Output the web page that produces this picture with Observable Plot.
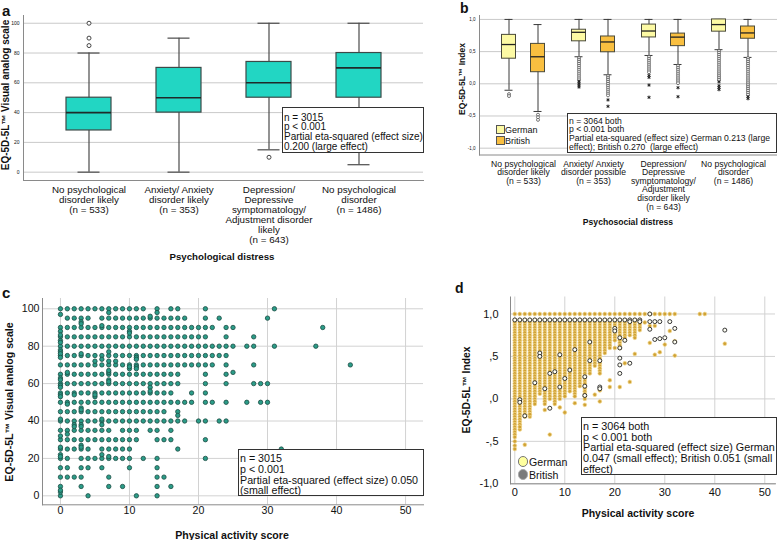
<!DOCTYPE html>
<html><head><meta charset="utf-8">
<script src="https://cdn.jsdelivr.net/npm/d3@7"></script>
<script src="https://cdn.jsdelivr.net/npm/@observablehq/plot@0.6"></script>
<style>
body{margin:0;background:#fff;}
#fig{position:relative;width:777px;height:540px;overflow:hidden;font-family:"Liberation Sans",Arial,sans-serif;color:#111;}
.note{position:absolute;background:#fff;border:1px solid #333;box-sizing:border-box;white-space:pre;overflow:hidden;padding-left:1px;}
</style></head><body><div id="fig"></div>
<script>
// ---------- Panel a data ----------
const aCats = ["No psychological\ndisorder likely\n(n = 533)", "Anxiety/ Anxiety\ndisorder likely\n(n = 353)", "Depression/\nDepressive\nsymptomatology/\nAdjustment disorder\nlikely\n(n = 643)", "No psychological\ndisorder\n(n = 1486)"];
const aLow  = [0, 0, 15, 5];
const aQ1   = [28, 40, 50, 50];
const aMed  = [40, 50, 60, 70];
const aQ3   = [50, 70, 74, 80];
const aHigh = [80, 90, 100, 100];
const aOutCat = [0, 0, 0, 2];
const aOutVal = [85, 90, 100, 10];
const aTicks = [0, 20, 40, 60, 80, 100];

// ---------- Panel b data ----------
const bCats = ["No psychological\ndisorder likely\n(n = 533)", "Anxiety/ Anxiety\ndisorder possible\n(n = 353)", "Depression/\nDepressive\nsymptomatology/\nAdjustment\ndisorder likely\n(n = 643)", "No psychological\ndisorder\n(n = 1486)"];
const bGerLow  = [-0.10, 0.42, 0.44, 0.53];
const bGerQ1   = [0.39, 0.66, 0.72, 0.81];
const bGerMed  = [0.61, 0.80, 0.82, 0.92];
const bGerQ3   = [0.76, 0.84, 0.92, 1.00];
const bGerHigh = [1.00, 1.00, 1.00, 1.00];
const bBriLow  = [-0.43, 0.14, 0.30, 0.41];
const bBriQ1   = [0.18, 0.49, 0.585, 0.70];
const bBriMed  = [0.42, 0.65, 0.725, 0.79];
const bBriQ3   = [0.62, 0.735, 0.78, 0.89];
const bBriHigh = [0.92, 1.00, 1.00, 1.00];
const bGerOutliers = [[-0.16, -0.19], [0.40,0.37,0.34,0.31,0.28,0.25,0.22,0.19,0.16,0.13,0.10,0.07], [0.42,0.39,0.36,0.33,0.30,0.27,0.24,0.21,0.18], [0.51,0.48,0.45,0.42,0.39,0.36,0.33,0.30,0.27,0.24,0.21,0.18,0.15,0.12,0.09,0.06]];
const bGerExtremes = [[], [0.04,0.01,-0.02,-0.05], [0.13,0.10,-0.02,-0.21], [0.03,-0.03,-0.06,-0.09]];
const bBriOutliers = [[-0.48,-0.52,-0.56], [0.12,0.09,0.06,0.03,0.0,-0.03,-0.06,-0.09,-0.12,-0.15,-0.18], [0.28,0.25,0.22,0.19,0.16,0.13,0.10,0.07,0.04,0.01], [0.40,0.37,0.34,0.31,0.28,0.25,0.22,0.19,0.16,0.13,0.10,0.07,0.04,0.01,-0.02,-0.05,-0.08,-0.11,-0.14,-0.17]];
const bBriExtremes = [[], [-0.25,-0.35], [-0.06,-0.20], [-0.20,-0.23]];
const bTicks = [-1, -0.5, 0, 0.5, 1];

// ---------- Panel c data (VAS rows, activity scores on each row) ----------
const cVas = [100, 95, 90, 85, 80, 75, 70, 65, 60, 55, 50, 45, 40, 35, 30, 25, 20, 15, 10, 5, 0];
const cActivityByVas = [
  [0,1,2,3,4,5,6,7,8,9,10,11,12,14,16,17,21,31],
  [1,2,3,4,6,7,8,9,10,11,12,13,14,15,16,17,18,21,23,30],
  [0,1,2,3,4,5,6,7,8,9,10,11,12,13,14,15,16,17,18,19,20,21,22,24,25,38],
  [0,1,2,3,4,5,6,7,8,9,10,11,12,13,14,15,16,17,18,19,20,21,24,28],
  [0,1,2,3,4,5,6,7,8,9,10,11,12,13,14,15,16,17,18,19,20,21,22,23,24,25,27,28,31,37],
  [0,1,2,3,4,5,6,7,8,9,10,11,12,13,14,15,16,17,18,19,20,21,22,23,24],
  [0,1,2,3,4,5,6,7,8,9,10,11,12,13,14,15,16,17,18,19,20,21,22,24,28,42],
  [0,1,2,3,4,5,6,7,8,9,10,11,12,13,14,15,16,17,21,24],
  [0,1,2,3,4,5,6,7,8,9,10,11,12,13,14,15,16,17,21,24,28,29,30],
  [0,1,2,3,4,5,6,7,8,9,10,11,12,13,14,15,16,19,21],
  [0,1,2,3,4,5,6,7,8,9,10,11,12,13,14,15,16,17,18,19,21,22,24,27,29,30],
  [0,1,2,3,4,5,6,7,8,9,10,11,12,13,14,15,17],
  [0,1,2,3,4,5,6,7,8,9,10,11,12,13,14,15,16,17,18,20,21,23,24],
  [0,1,2,3,4,5,6,7,9,10,11,13,14,16],
  [0,1,2,3,4,5,6,7,8,9,10,11,14,15,16,21],
  [0,1,2,3,4,6,7,8,9,10,17,32],
  [0,1,3,4,5,6,7,8,9,10,12,14,21],
  [0,1,3,4,6,10,14],
  [0,1,2,3,7,14,15],
  [0,3,7,9,14,16],
  [0,4,11,14]
];
const cExtraActivity = [0,7,14,13,3,3,0,0,6,10,10,0,0,0,0,0,3,7,0,6,11,11,5,7,8,10,10,11,11,0,0,1,7,7,25,0,0,7,7,13,0,0,2,5,5,13,1,3,3,17,0,2,2,3,6,6,1,3,0,0,3,3,0,0,6,7,0,0];
const cExtraVas      = [97,98,98,96,93,92,88,86,91,88,87,83,82,78,77,76,76,77,74,73,74,73,72,72,72,68,69,69,68,63,62,66,66,67,66,59,58,62,61,58,54,53,54,53,54,56,49,47,46,43,41,38,37,38,41,38,33,37,32,26,27,26,22,21,22,21,2,3];

// ---------- Panel d data ----------
const dIndexLevels = [1.0,0.93,0.90,0.87,0.84,0.81,0.78,0.75,0.72,0.69,0.66,0.63,0.60,0.57,0.54,0.51,0.48,0.45,0.42,0.39,0.36,0.33,0.30,0.27,0.24,0.21,0.18,0.15,0.12,0.09,0.06,0.03,0.0,-0.03,-0.06,-0.09,-0.12,-0.15,-0.18,-0.21,-0.24,-0.27,-0.30,-0.33,-0.36,-0.39,-0.42,-0.45];
const dColActivity = [0,1,2,3,4,5,6,7,8,9,10,11,12,13,14,15,16,17,18,19,20,21,22,23,24,25];
const dColLowest   = [-0.45,-0.36,-0.21,-0.21,-0.06,0.06,-0.06,0.0,-0.06,0.0,0.03,0.09,0.03,0.15,0.0,0.30,0.39,0.30,0.54,0.60,0.69,0.60,0.69,0.75,0.72,0.81];
const dBriExtraActivity = [0,0,0,2,7,1,3,6,9,10,14,17,19,19,21,23,17,16,12,24,28,29,32,27,30,31,32,42,26,27,28,29,30,31,32,37,38,26,27,28,22,20,21];
const dBriExtraIndex    = [-0.50,-0.55,-0.59,-0.54,-0.42,-0.33,-0.18,-0.13,-0.10,-0.16,-0.07,-0.03,0.14,0.22,0.14,0.20,0.10,0.05,-0.05,0.53,0.52,0.55,0.51,0.66,0.64,0.80,0.68,0.65,1,1,1,1,1,1,1,1,1,0.90,0.86,0.86,0.42,0.60,0.60];
const dGerTopRowActivity = [0,1,2,3,4,5,6,7,8,9,10,11,12,13,14,15,16,17,18,19,20,21,22,23,24,25];
const dGerTopRowIndex = 0.93;
const dGerActivity = [5,5,4,1,1,2,7,6,9,7,8,9,10,12,11,14,14,14,15,15,17,17,17,21,21,21,21,21,23,22,25,27,27,28,29,27,28,29,30,32,32,31,42,20,20,23];
const dGerIndex    = [0.54,0.50,0.19,-0.01,-0.04,-0.20,-0.11,0.12,0.14,0.30,0.32,0.52,0.24,0.58,0.34,0.26,0.04,0.15,0.67,0.45,0.45,0.14,0.12,0.72,0.60,0.48,0.40,0.30,0.42,0.69,0.91,1.0,0.91,0.91,0.91,0.82,0.70,0.71,0.72,0.83,0.67,0.91,0.81,0.83,0.80,0.91];

// ---------- helpers ----------
const FONT = '"Liberation Sans", Arial, sans-serif';
const fig = document.getElementById("fig");
function place(svg, left, top) {
  svg.style.position = "absolute"; svg.style.left = left + "px"; svg.style.top = top + "px";
  fig.appendChild(svg);
}
function label(txt, x, y, o = {}) {
  const d = document.createElement("div");
  d.textContent = txt;
  const size = o.size || 10;
  Object.assign(d.style, {position: "absolute", left: x + "px", top: y + "px", fontSize: size + "px",
    lineHeight: size + "px", fontWeight: o.bold ? "bold" : "normal", whiteSpace: "pre"});
  const tx = o.anchor === "middle" ? "-50%" : o.anchor === "end" ? "-100%" : "0";
  d.style.transform = `translate(${tx},-50%)` + (o.rotate ? ` rotate(${o.rotate}deg)` : "");
  fig.appendChild(d);
}
function note(lines, left, top, width, height, size, lh, padTop) {
  const d = document.createElement("div");
  d.className = "note";
  d.textContent = lines.join("\n");
  Object.assign(d.style, {left: left + "px", top: top + "px", width: width + "px", height: height + "px",
    fontSize: size + "px", lineHeight: lh + "px", paddingTop: padTop + "px"});
  fig.appendChild(d);
}
function swatch(left, top, w, h, fill, stroke, round) {
  const d = document.createElement("div");
  Object.assign(d.style, {position: "absolute", left: left + "px", top: top + "px", width: w + "px", height: h + "px",
    background: fill, border: "1px solid " + stroke, boxSizing: "border-box", borderRadius: round ? "50%" : "0"});
  fig.appendChild(d);
}
const commaFmt = d => d.toFixed(1).replace(".", ",");
const spssFmt = d => commaFmt(d).replace(/^(-?)0,/, "$1,");
const baseStyle = {fontFamily: FONT, background: "transparent", overflow: "visible", color: "#111"};

// ---------- Panel a ----------
const aBox = aCats.map((c, i) => ({cat: c, low: aLow[i], q1: aQ1[i], med: aMed[i], q3: aQ3[i], high: aHigh[i]}));
const aOut = aOutCat.map((ci, i) => ({cat: aCats[ci], val: aOutVal[i]}));
const aY = [-5.6, 105.2];
place(Plot.plot({
  width: 430, height: 265, marginLeft: 23, marginRight: 7, marginTop: 15, marginBottom: 85,
  style: baseStyle,
  x: {domain: aCats, paddingInner: 0.5, paddingOuter: 0.472},
  y: {domain: aY},
  marks: [
    Plot.gridY(aTicks, {stroke: "#c9c9c9", strokeOpacity: 1}),
    Plot.frame({anchor: "left", stroke: "#8a8a8a"}),
    Plot.frame({anchor: "bottom", stroke: "#8a8a8a"}),
    Plot.ruleX(aBox, {x: "cat", y1: "low", y2: "high", stroke: "#4a4a4a", strokeWidth: 1.2}),
    Plot.tickY(aBox, {x: "cat", y: "low", insetLeft: 11.5, insetRight: 11.5, stroke: "#4a4a4a", strokeWidth: 1.2}),
    Plot.tickY(aBox, {x: "cat", y: "high", insetLeft: 11.5, insetRight: 11.5, stroke: "#4a4a4a", strokeWidth: 1.2}),
    Plot.barY(aBox, {x: "cat", y1: "q1", y2: "q3", fill: "#22d6c3", stroke: "#3c4a48", strokeWidth: 1.2}),
    Plot.tickY(aBox, {x: "cat", y: "med", stroke: "#1f2b2a", strokeWidth: 1.6}),
    Plot.dot(aOut, {x: "cat", y: "val", r: 2, fill: "#fff", stroke: "#444", strokeWidth: 1}),
    Plot.axisY(aTicks, {tickSize: 0, tickPadding: 4, fontSize: 5, label: null}),
    Plot.axisX({tickSize: 0, tickPadding: 5, fontSize: 9.8, lineHeight: 1.02, label: null})
  ]
}), 0, 0);

// ---------- Panel b ----------
const mk = (cats, lo, q1, md, q3, hi) => cats.map((c, i) => ({cat: c, low: lo[i], q1: q1[i], med: md[i], q3: q3[i], high: hi[i]}));
const bGer = mk(bCats, bGerLow, bGerQ1, bGerMed, bGerQ3, bGerHigh);
const bBri = mk(bCats, bBriLow, bBriQ1, bBriMed, bBriQ3, bBriHigh);
const flat = arr => arr.flatMap((vals, i) => vals.map(v => ({cat: bCats[i], val: v})));
function boxMarks(data, dx, fill) {
  const bi = 28, ci = 31;
  return [
    Plot.ruleX(data, {x: "cat", y1: "low", y2: "high", dx, stroke: "#3a3a3a", strokeWidth: 1}),
    Plot.tickY(data, {x: "cat", y: "low", dx, insetLeft: ci, insetRight: ci, stroke: "#3a3a3a"}),
    Plot.tickY(data, {x: "cat", y: "high", dx, insetLeft: ci, insetRight: ci, stroke: "#3a3a3a"}),
    Plot.barY(data, {x: "cat", y1: "q1", y2: "q3", dx, insetLeft: bi, insetRight: bi, fill, stroke: "#4a4a3a", strokeWidth: 1}),
    Plot.tickY(data, {x: "cat", y: "med", dx, insetLeft: bi, insetRight: bi, stroke: "#222", strokeWidth: 1.3})
  ];
}
place(Plot.plot({
  width: 337, height: 230, marginLeft: 39, marginRight: 0, marginTop: 15, marginBottom: 75.5,
  style: baseStyle,
  x: {domain: bCats, paddingInner: 0, paddingOuter: 0.11},
  y: {domain: [-1.106, 1.061]},
  marks: [
    Plot.gridY(bTicks, {stroke: "#c9c9c9", strokeOpacity: 1}),
    Plot.frame({anchor: "left", stroke: "#8a8a8a"}),
    Plot.frame({anchor: "bottom", stroke: "#8a8a8a"}),
    ...boxMarks(bGer, -14.5, "#fdfaa4"),
    ...boxMarks(bBri, 14.5, "#f9bf40"),
    Plot.dot(flat(bGerOutliers), {x: "cat", y: "val", dx: -14.5, r: 1.5, fill: "#fff", stroke: "#555", strokeWidth: 0.8}),
    Plot.dot(flat(bBriOutliers), {x: "cat", y: "val", dx: 14.5, r: 1.5, fill: "#fff", stroke: "#555", strokeWidth: 0.8}),
    Plot.dot(flat(bGerExtremes), {x: "cat", y: "val", dx: -14.5, r: 1.6, symbol: "asterisk", stroke: "#222", strokeWidth: 1}),
    Plot.dot(flat(bBriExtremes), {x: "cat", y: "val", dx: 14.5, r: 1.6, symbol: "asterisk", stroke: "#222", strokeWidth: 1}),
    Plot.axisY(bTicks, {tickSize: 0, tickPadding: 4, fontSize: 4.5, tickFormat: commaFmt, label: null}),
    Plot.axisX({tickSize: 0, tickPadding: 5.5, fontSize: 8.6, lineHeight: 1.0, label: null})
  ]
}), 440, 0);

// ---------- Panel c ----------
const cTable = cVas.flatMap((v, i) => cActivityByVas[i].map(a => ({a, v})))
  .concat(cExtraActivity.map((a, i) => ({a, v: cExtraVas[i]})));
place(Plot.plot({
  width: 430, height: 270, marginLeft: 42, marginRight: 7, marginTop: 28, marginBottom: 35.7,
  style: baseStyle,
  x: {domain: [-2.6, 52.6]},
  y: {domain: [-4.8, 105.5]},
  marks: [
    Plot.gridX([0, 10, 20, 30, 40, 50], {stroke: "#d2d2d2", strokeOpacity: 1}),
    Plot.gridY(aTicks, {stroke: "#d2d2d2", strokeOpacity: 1}),
    Plot.frame({anchor: "left", stroke: "#8a8a8a"}),
    Plot.frame({anchor: "bottom", stroke: "#8a8a8a"}),
    Plot.dot(cTable, {x: "a", y: "v", r: 2.2, fill: "#2b9c88", stroke: "#1d4d44", strokeWidth: 0.8}),
    Plot.axisY(aTicks, {tickSize: 0, tickPadding: 3, fontSize: 10.6, label: null}),
    Plot.axisX([0, 10, 20, 30, 40, 50], {tickSize: 0, tickPadding: 1.5, fontSize: 10.6, label: null})
  ]
}), 0, 270);

// ---------- Panel d ----------
const dBri = dColActivity.flatMap((a, i) => dIndexLevels.filter(l => l >= dColLowest[i] - 1e-9).map(l => ({a, v: l})))
  .concat(dBriExtraActivity.map((a, i) => ({a, v: dBriExtraIndex[i]})));
const dGer = dGerTopRowActivity.map(a => ({a, v: dGerTopRowIndex}))
  .concat(dGerActivity.map((a, i) => ({a, v: dGerIndex[i]})));
place(Plot.plot({
  width: 307, height: 270, marginLeft: 40, marginRight: 2, marginTop: 26.5, marginBottom: 56.7,
  style: baseStyle,
  x: {domain: [-0.86, 52.14]},
  y: {domain: [-1, 1.2]},
  marks: [
    Plot.gridX([0, 10, 20, 30, 40, 50], {stroke: "#d2d2d2", strokeOpacity: 1}),
    Plot.gridY(bTicks, {stroke: "#d2d2d2", strokeOpacity: 1}),
    Plot.frame({anchor: "left", stroke: "#8a8a8a"}),
    Plot.frame({anchor: "bottom", stroke: "#8a8a8a"}),
    Plot.dot(dBri, {x: "a", y: "v", r: 1.9, fill: "#d0a235", stroke: "#f4db96", strokeWidth: 0.7}),
    Plot.dot(dGer, {x: "a", y: "v", r: 2, fill: "#fffff4", stroke: "#222", strokeWidth: 0.9}),
    Plot.axisY(bTicks, {tickSize: 0, tickPadding: 12, fontSize: 11, tickFormat: spssFmt, label: null}),
    Plot.axisX([0, 10, 20, 30, 40, 50], {tickSize: 0, tickPadding: 4, fontSize: 11, label: null})
  ]
}), 470, 270);

// ---------- Titles, letters, notes, legends ----------
label("a", 2, 9.5, {size: 15, bold: true});
label("b", 460, 8, {size: 14, bold: true});
label("c", 2, 292, {size: 15, bold: true});
label("d", 455, 288, {size: 14, bold: true});

label("EQ-5D-5L™ Visual analog scale", 5.5, 95, {size: 10, bold: true, anchor: "middle", rotate: -90});
label("Psychological distress", 222, 257, {size: 9.7, bold: true, anchor: "middle"});
label("EQ-5D-5L™ Index", 461.5, 79, {size: 8.5, bold: true, anchor: "middle", rotate: -90});
label("Psychosocial distress", 628, 222, {size: 8.6, bold: true, anchor: "middle"});
label("EQ-5D-5L™ Visual analog scale", 8.5, 402, {size: 10.6, bold: true, anchor: "middle", rotate: -90});
label("Physical activity score", 232, 535, {size: 10.6, bold: true, anchor: "middle"});
label("EQ-5D-5L™ Index", 466.5, 390, {size: 10.3, bold: true, anchor: "middle", rotate: -90});
label("Physical activity score", 638, 513, {size: 10.5, bold: true, anchor: "middle"});

note(["n = 3015", "p < 0.001", "Partial eta-squared (effect size)", "0.200 (large effect)"], 282, 107, 142, 46, 10, 9.8, 4.5);
note(["n = 3064 both", "p < 0.001 both", "Partial eta-squared (effect size) German 0.213 (large", "effect); British 0.270  (large effect)"], 567, 113, 210, 40, 8.6, 8.7, 2.5);
note(["n = 3015", "p < 0.001", "Partial eta-squared (effect size) 0.050", "(small effect)"], 238, 449, 186, 47, 10.7, 10.7, 3.2);
note(["n = 3064 both", "p < 0.001 both", "Partial eta-squared (effect size) German", "0.047 (small effect); British 0.051 (small", "effect)"], 581, 416.5, 196, 58, 10.8, 10.65, 3.4);

swatch(496, 125, 8.5, 8.5, "#fdfaa4", "#555");
swatch(496, 136, 8.5, 8.5, "#f9bf40", "#555");
label("German", 505, 129.5, {size: 9});
label("British", 505, 140.5, {size: 9});
swatch(517.5, 456, 10.5, 10.5, "#ffff9e", "#777", true);
swatch(517.5, 469, 10.5, 10.5, "#7a7a7a", "#aaa", true);
label("German", 529, 461.5, {size: 10.6});
label("British", 529, 474.5, {size: 10.6});
</script></body></html>
